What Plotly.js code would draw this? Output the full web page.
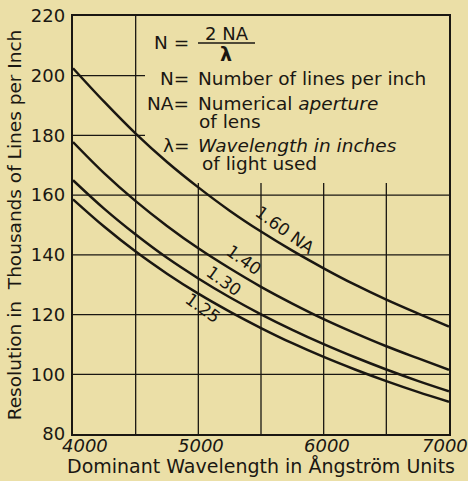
<!DOCTYPE html>
<html><head><meta charset="utf-8">
<script src="https://cdn.plot.ly/plotly-3.0.1.min.js"></script>
<style>html,body{margin:0;padding:0;background:#ebdfa7;}</style>
</head><body>
<div id="chart" style="width:468px;height:481px;"></div>
<script>
// Wavelength in Ångström
const wavelength = [4000,4250,4500,4750,5000,5250,5500,5750,6000,6250,6500,6750,7000];
// Resolution in thousands of lines per inch
const na160 = [202.5,191.2,180.6,171.1,162.6,154.8,147.8,141.4,135.5,130.0,125.0,120.4,116.0];
const na140 = [177.8,167.3,158.0,149.7,142.2,135.5,129.3,123.7,118.5,113.8,109.4,105.4,101.5];
const na130 = [165.0,155.4,146.8,139.0,132.1,125.8,120.1,114.9,110.1,105.7,101.6,97.8,94.3];
const na125 = [158.6,149.4,141.1,133.7,127.0,121.0,115.5,110.4,105.8,101.6,97.7,94.1,90.8];
const curveLabels = ["1.60 NA","1.40","1.30","1.25"];
const xTicks = [4000,5000,6000,7000];
const xGrid = [4500,5000,5500,6000,6500];
const yTicks = [80,100,120,140,160,180,200,220];
const yGrid = [100,120,140,160,180,200];

const ink = '#1a1712';
const bg = '#ebdfa7';
const font = '"DejaVu Sans", sans-serif';
const L=73,R=449,T=16,B=434;
const px=(x)=>(x-L)/(R-L);
const py=(y)=>(B-y)/(B-T);

const series=[na160,na140,na130,na125];
const traces = series.map((s,i)=>({x:wavelength,y:s,type:'scatter',mode:'lines',
  line:{color:ink,width:2.5,shape:'spline'},name:curveLabels[i],hoverinfo:'skip'}));

function ann(text,x,y,opts){
  return Object.assign({text:text,x:px(x),y:py(y),xref:'paper',yref:'paper',showarrow:false,
    yanchor:'middle',font:{family:font,size:16,color:ink}},opts||{});
}
const ft={family:font,size:18.5,color:ink};
const fl={family:font,size:17,color:ink};
const annotations=[
  ann('N =',191,43,{xanchor:'right',font:ft}),
  ann('2 NA',227,33,{font:{family:font,size:18,color:ink}}),
  ann('λ',226,54,{font:{family:font,size:19,color:ink,weight:'bold'}}),
  ann('N=',191,78,{xanchor:'right',font:ft}),
  ann('Number of lines per inch',196,78,{xanchor:'left',font:ft}),
  ann('NA=',191,103,{xanchor:'right',font:ft}),
  ann('Numerical <i>aperture</i>',196,103,{xanchor:'left',font:ft}),
  ann('of lens',197,121,{xanchor:'left',font:ft}),
  ann('λ=',191,145,{xanchor:'right',font:ft}),
  ann('<i>Wavelength in inches</i>',196,145,{xanchor:'left',font:ft}),
  ann('of light used',200,163,{xanchor:'left',font:ft}),
  ann(curveLabels[0],285,230,{textangle:36,font:fl}),
  ann(curveLabels[1],244,260,{textangle:36,font:fl}),
  ann(curveLabels[2],224,281,{textangle:36,font:fl}),
  ann(curveLabels[3],203,308,{textangle:36,font:fl})
];
// x tick labels as annotations placed on the x scale
xTicks.forEach((v,i)=>{
  annotations.push({text:String(v),x:v,xref:'x',y:py(433),yref:'paper',yanchor:'top',
    xanchor:'center',xshift:(i===0?12:(i===xTicks.length-1?-4:3)),showarrow:false,
    font:{family:font,size:18,color:ink,style:'italic'}});
});

// grid lines (the panel behind the formula is left blank)
const gridShapes=[];
const gw=1.3;
xGrid.forEach(v=>{
  gridShapes.push({type:'line',xref:'x',yref:'paper',x0:v,x1:v,y0:0,
    y1:(v===4500?1:py(183)),line:{color:ink,width:gw},layer:'below'});
});
yGrid.forEach(v=>{
  gridShapes.push({type:'line',xref:'paper',yref:'y',x0:0,x1:(v>165?px(145):1),y0:v,y1:v,
    line:{color:ink,width:gw},layer:'below'});
});

const layout={
  width:468,height:481,
  paper_bgcolor:bg,plot_bgcolor:bg,
  margin:{l:L,r:468-R,t:T,b:481-B,pad:0},
  showlegend:false,
  xaxis:{range:[4000,7000],tickvals:xGrid,showticklabels:false,
    showgrid:false,
    showline:true,linecolor:ink,linewidth:2.3,mirror:true,zeroline:false,
    ticks:'',automargin:false,
    title:{text:'Dominant Wavelength in Ångström Units',standoff:25,
      font:{family:font,size:19,color:ink}}},
  yaxis:{range:[80,220],tickvals:yTicks,ticktext:yTicks.map(String),
    showgrid:false,
    showline:true,linecolor:ink,linewidth:2.3,mirror:true,zeroline:false,
    ticks:'',ticklabelstandoff:2,automargin:false,
    tickfont:{family:font,size:18,color:ink},
    title:{text:'Resolution in  Thousands of Lines per Inch',standoff:4,
      font:{family:font,size:18.5,color:ink}}},
  shapes:gridShapes.concat([
    // fraction bar
    {type:'line',xref:'paper',yref:'paper',x0:px(198),x1:px(255),y0:py(43),y1:py(43),line:{color:ink,width:1.5}}
  ]),
  annotations:annotations
};
Plotly.newPlot('chart',traces,layout,{displayModeBar:false,staticPlot:true});
</script>
</body></html>
